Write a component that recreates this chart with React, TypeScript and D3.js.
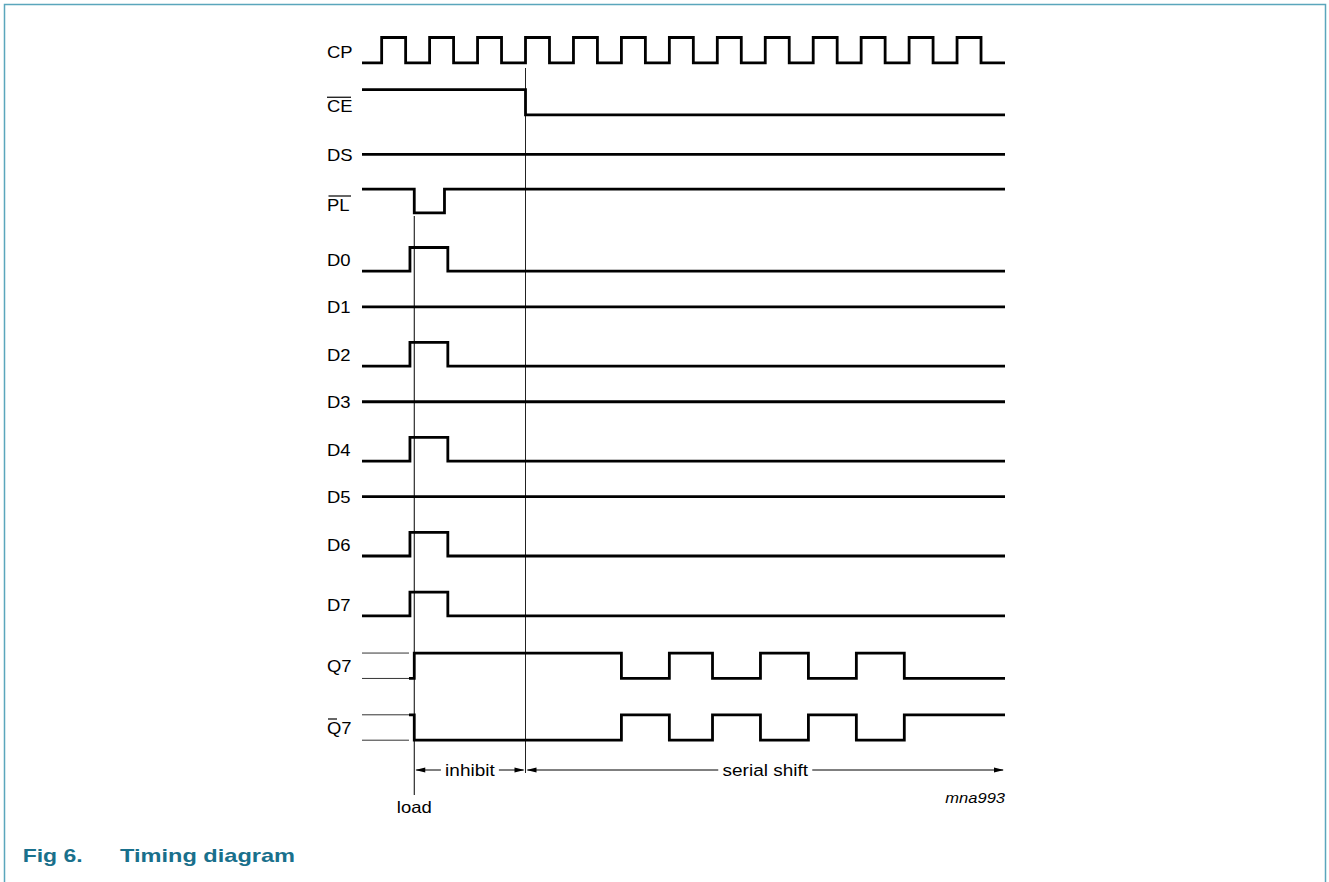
import React from "react";
import * as d3 from "d3";

// signal rows, top to bottom
const signals = ["CP", "CE", "DS", "PL", "D0", "D1", "D2", "D3", "D4", "D5", "D6", "D7", "Q7", "Q7N"];
const labels = ["CP", "CE", "DS", "PL", "D0", "D1", "D2", "D3", "D4", "D5", "D6", "D7", "Q7", "Q7"];
// 1 = high, 0 = low, null = flat line drawn at mid row
const initLevels = [0, 1, null, 1, 0, null, 0, null, 0, null, 0, 0, 0, 1];

// edge times, in clock periods counted from the first CP rising edge
const cpToggles = [0, 0.5, 1, 1.5, 2, 2.5, 3, 3.5, 4, 4.5, 5, 5.5, 6, 6.5, 7, 7.5, 8, 8.5, 9, 9.5, 10, 10.5, 11, 11.5, 12, 12.5];
const ceToggles = [3];
const plToggles = [0.68, 1.31];
const dataToggles = [0.59, 1.38];
const q7Toggles = [0.68, 5, 6, 6.9, 7.9, 8.9, 9.9, 10.9];
const toggles = [cpToggles, ceToggles, [], plToggles, dataToggles, [], dataToggles, [], dataToggles, [], dataToggles, dataToggles, q7Toggles, q7Toggles];

const tStart = -0.41;
const tEnd = 13;
const qStart = 0.57; // outputs become defined here
const tLoad = 0.68;
const tCeFall = 3;

const W = 1329;
const H = 882;
const FONT = "'Liberation Sans', Arial, Helvetica, sans-serif";
const TEAL = "#19708c";

const x = d3.scaleLinear().domain([tStart, tEnd]).range([362, 1005]);
// row index -> vertical centre (rows are not evenly spaced)
const rowY = d3.scaleLinear().domain([0, 2, 3, 4, 10, 11, 13]).range([50.2, 154.3, 201, 259.3, 544.2, 604, 727.5]);

const halfAmp = (name: string) => (name === "CP" || name === "CE" || name.startsWith("Q") ? 12.7 : 11.8);

const Wave = ({ name, i }: { name: string; i: number }) => {
  const mid = rowY(i);
  const init = initLevels[i];
  const a = halfAmp(name);
  const lvlY = (l: number | null) => (l === null ? mid : mid - (l - 0.5) * 2 * a);
  const start = name.startsWith("Q") ? qStart : tStart;
  const pts: [number, number | null][] = [[start, init]];
  let lvl = init;
  toggles[i].forEach((t) => {
    lvl = lvl === null ? null : 1 - lvl;
    pts.push([t, lvl]);
  });
  pts.push([tEnd, lvl]);
  const line = d3
    .line<[number, number | null]>()
    .x((d) => x(d[0]))
    .y((d) => lvlY(d[1]))
    .curve(d3.curveStepAfter);

  const labelDy = name === "CE" || name === "PL" ? 10 : name === "CP" ? 8 : 6.5;
  const base = mid + labelDy;
  const bar = name === "CE" ? [327, 351] : name === "PL" ? [328.5, 351] : name === "Q7N" ? [328, 337] : null;

  return (
    <g>
      {name.startsWith("Q") &&
        [0, 1].map((l) => (
          <line key={l} x1={x(tStart)} x2={x(qStart)} y1={lvlY(l)} y2={lvlY(l)} stroke="#333" strokeWidth={1} />
        ))}
      <path d={line(pts) || ""} fill="none" stroke="#000" strokeWidth={2.8} strokeLinejoin="miter" />
      <text
        transform={`translate(327,${base}) scale(1.12,1)`}
        fontFamily={FONT}
        fontSize={16.5}
        fill="#000"
      >
        {labels[i]}
      </text>
      {bar && <line x1={bar[0]} x2={bar[1]} y1={base - 15} y2={base - 15} stroke="#000" strokeWidth={1.2} />}
    </g>
  );
};

const arrowHead = (tipX: number, y: number, dir: number) =>
  `M${tipX},${y} L${tipX - dir * 10},${y - 2.6} L${tipX - dir * 10},${y + 2.6} Z`;

const Span = ({ x0, x1, y, label, half }: { x0: number; x1: number; y: number; label: string; half: number }) => {
  const cx = (x0 + x1) / 2;
  return (
    <g>
      <line x1={x0 + 2} x2={cx - half - 4} y1={y} y2={y} stroke="#000" strokeWidth={1} />
      <line x1={cx + half + 4} x2={x1 - 2} y1={y} y2={y} stroke="#000" strokeWidth={1} />
      <path d={arrowHead(x0 + 1, y, -1)} fill="#000" />
      <path d={arrowHead(x1 - 1, y, 1)} fill="#000" />
      <text
        transform={`translate(${cx},${y + 6}) scale(1.15,1)`}
        textAnchor="middle"
        fontFamily={FONT}
        fontSize={16.5}
      >
        {label}
      </text>
    </g>
  );
};

export default function App() {
  const arrowY = 770;
  return (
    <svg width={W} height={H} style={{ position: "absolute", left: 0, top: 0, display: "block", background: "#fff" }}>
      <rect x={4.5} y={4.5} width={1321} height={H + 20} fill="none" stroke="#5aa6bc" strokeWidth={1.5} />

      {/* reference verticals */}
      <line x1={x(tCeFall)} x2={x(tCeFall)} y1={68} y2={773} stroke="#222" strokeWidth={1} />
      <line x1={x(tLoad)} x2={x(tLoad)} y1={216} y2={795} stroke="#000" strokeWidth={1} />

      {signals.map((s, i) => (
        <Wave key={s} name={s} i={i} />
      ))}

      <Span x0={x(tLoad)} x1={x(tCeFall)} y={arrowY} label="inhibit" half={25} />
      <Span x0={x(tCeFall)} x1={x(tEnd)} y={arrowY} label="serial shift" half={43} />

      <text transform={`translate(${x(tLoad)},813) scale(1.12,1)`} textAnchor="middle" fontFamily={FONT} fontSize={16.5}>
        load
      </text>
      <text
        transform={`translate(${x(tEnd)},803) scale(1.18,1)`}
        textAnchor="end"
        fontFamily={FONT}
        fontSize={14}
        fontStyle="italic"
      >
        mna993
      </text>

      <text x={22.7} y={862} fontFamily={FONT} fontSize={19} fontWeight="bold" fill={TEAL} textLength={60} lengthAdjust="spacingAndGlyphs">
        Fig 6.
      </text>
      <text x={120} y={862} fontFamily={FONT} fontSize={19} fontWeight="bold" fill={TEAL} textLength={175} lengthAdjust="spacingAndGlyphs">
        Timing diagram
      </text>
    </svg>
  );
}
